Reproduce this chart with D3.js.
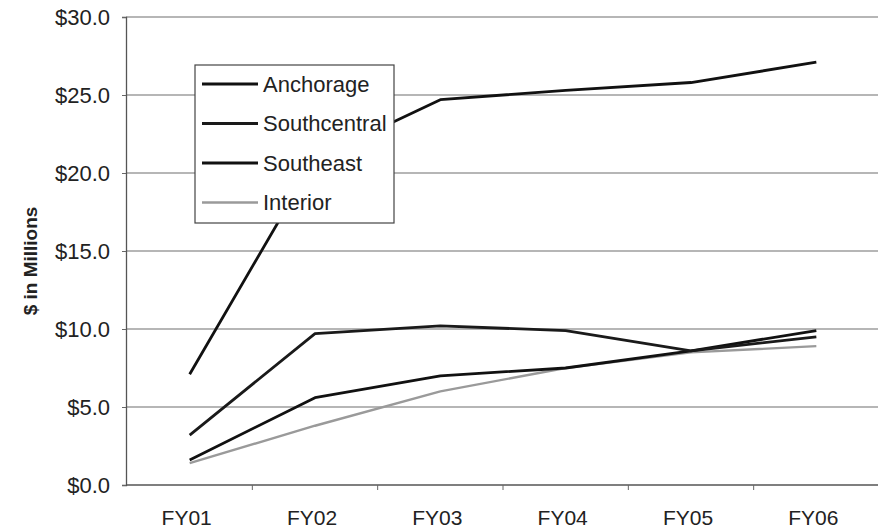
<!DOCTYPE html>
<html>
<head>
<meta charset="utf-8">
<script src="https://cdn.jsdelivr.net/npm/d3@7"></script>
<style>
  body { margin: 0; background: #fff; }
  text { font-family: "Liberation Sans", Arial, sans-serif; fill: #222; }
</style>
</head>
<body>
<div id="chart"></div>
<script>
// chart data
var years = ["FY01", "FY02", "FY03", "FY04", "FY05", "FY06"];
var anchorage = [7.1, 20.9, 24.7, 25.3, 25.8, 27.1];
var southcentral = [3.2, 9.7, 10.2, 9.9, 8.6, 9.5];
var southeast = [1.6, 5.6, 7.0, 7.5, 8.6, 9.9];
var interior = [1.4, 3.8, 6.0, 7.5, 8.5, 8.9];
var yTicks = [0, 5, 10, 15, 20, 25, 30];

var series = [
  { name: "Anchorage", values: anchorage, color: "#111", width: 2.8 },
  { name: "Southcentral", values: southcentral, color: "#1a1a1a", width: 2.8 },
  { name: "Southeast", values: southeast, color: "#111", width: 2.8 },
  { name: "Interior", values: interior, color: "#9a9a9a", width: 2.4 }
];

var svgWidth = 882;
var svgHeight = 532;

var svg = d3.select("#chart")
  .append("svg")
  .attr("width", svgWidth)
  .attr("height", svgHeight);

// scales
var x = d3.scaleBand()
  .domain(years)
  .range([127, 879]);

var y = d3.scaleLinear()
  .domain([0, 30])
  .range([485, 17]);

var plotLeft = 126, plotRight = 878;

// gridlines
svg.append("g")
  .selectAll("line")
  .data(yTicks.filter(d => d > 0))
  .enter()
  .append("line")
  .attr("x1", plotLeft)
  .attr("x2", plotRight)
  .attr("y1", d => y(d))
  .attr("y2", d => y(d))
  .attr("stroke", "#6e6e6e")
  .attr("stroke-width", 1.2);

// y axis
var leftAxis = d3.axisLeft(y)
  .tickValues(yTicks)
  .tickSize(4)
  .tickPadding(12)
  .tickFormat(d => "$" + d3.format(".1f")(d));

var yAxisG = svg.append("g")
  .attr("transform", `translate(${plotLeft},0)`)
  .call(leftAxis);
yAxisG.select(".domain").attr("stroke", "#555").attr("stroke-width", 1.3);
yAxisG.selectAll(".tick line").attr("stroke", "#666");
yAxisG.selectAll("text")
  .style("font-size", "22px")
  .style("font-family", "'Liberation Sans', Arial, sans-serif")
  .attr("fill", "#222");

// x axis
var xAxisG = svg.append("g")
  .attr("transform", `translate(0,${y(0)})`);
xAxisG.append("line")
  .attr("x1", plotLeft)
  .attr("x2", plotRight)
  .attr("stroke", "#555")
  .attr("stroke-width", 1.3);
xAxisG.selectAll(".xtick")
  .data(years.slice(1))
  .enter()
  .append("line")
  .attr("class", "xtick")
  .attr("x1", d => x(d))
  .attr("x2", d => x(d))
  .attr("y1", 0)
  .attr("y2", 5)
  .attr("stroke", "#666");
xAxisG.selectAll(".xlabel")
  .data(years)
  .enter()
  .append("text")
  .attr("class", "xlabel")
  .attr("x", d => x(d) + x.bandwidth() / 2 - 3)
  .attr("y", 40)
  .attr("text-anchor", "middle")
  .style("font-size", "21px")
  .text(d => d);

// axis title
svg.append("text")
  .attr("transform", "rotate(-90)")
  .attr("x", -261)
  .attr("y", 37)
  .attr("text-anchor", "middle")
  .style("font-size", "19px")
  .style("font-weight", "bold")
  .text("$ in Millions");

// lines
var line = d3.line()
  .x((d, i) => x(years[i]) + x.bandwidth() / 2)
  .y(d => y(d));

svg.append("g")
  .selectAll("path")
  .data(series.slice().reverse())
  .enter()
  .append("path")
  .attr("d", s => line(s.values))
  .attr("fill", "none")
  .attr("stroke", s => s.color)
  .attr("stroke-width", s => s.width)
  .attr("stroke-linejoin", "round");

// legend
var legend = svg.append("g");
legend.append("rect")
  .attr("x", 195)
  .attr("y", 65)
  .attr("width", 199)
  .attr("height", 158)
  .attr("fill", "#fff")
  .attr("stroke", "#444")
  .attr("stroke-width", 1.2);

var items = legend.selectAll(".item")
  .data(series)
  .enter()
  .append("g")
  .attr("class", "item")
  .attr("transform", (d, i) => `translate(0,${84 + i * 39.5})`);
items.append("line")
  .attr("x1", 202)
  .attr("x2", 258)
  .attr("stroke", s => s.color)
  .attr("stroke-width", s => s.width);
items.append("text")
  .attr("x", 263)
  .attr("dy", "0.35em")
  .style("font-size", "22px")
  .text(s => s.name);
</script>
</body>
</html>
